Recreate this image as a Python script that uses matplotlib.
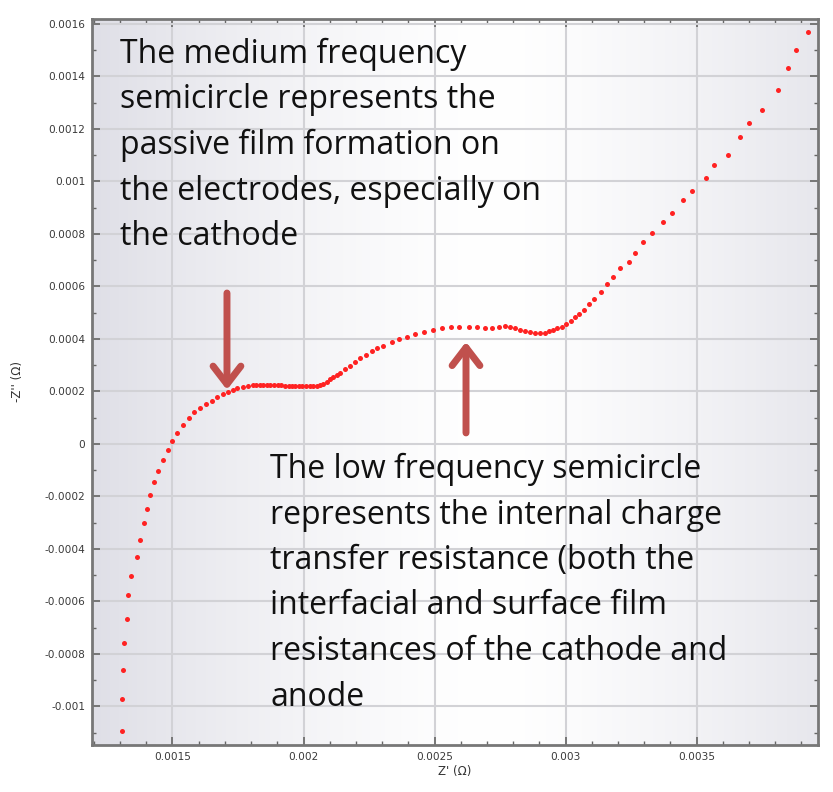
import numpy as np
import matplotlib
matplotlib.use('Agg')
import matplotlib.pyplot as plt
from matplotlib.ticker import MultipleLocator, FuncFormatter

# Nyquist data, values in micro-ohm
z_real = [1307, 1307, 1311, 1316, 1326, 1331, 1341, 1366, 1376, 1390,
          1402, 1415, 1429, 1445, 1463, 1483, 1499, 1517, 1541, 1563,
          1582, 1606, 1628, 1650, 1671, 1692, 1711, 1730, 1747, 1768,
          1789, 1807, 1820, 1834, 1847, 1861, 1874, 1887, 1901, 1914,
          1929, 1943, 1956, 1969, 1983, 1996, 2009, 2023, 2036, 2051,
          2063, 2074, 2088, 2101, 2113, 2126, 2139, 2158, 2177, 2196,
          2215, 2238, 2260, 2279, 2304, 2336, 2365, 2396, 2425, 2460,
          2495, 2529, 2562, 2594, 2632, 2663, 2692, 2718, 2747, 2769,
          2788, 2807, 2826, 2845, 2864, 2883, 2902, 2921, 2938, 2953,
          2968, 2985, 3001, 3019, 3036, 3053, 3071, 3090, 3108, 3134,
          3157, 3182, 3207, 3242, 3266, 3296, 3330, 3372, 3405, 3449,
          3483, 3535, 3567, 3619, 3665, 3699, 3749, 3809, 3848, 3878,
          3926]
z_imag = [-1092, -973, -861, -758, -666, -576, -503, -429, -366, -301,
          -248, -193, -145, -102, -61, -23, 13, 42, 71, 100,
          121, 136, 151, 165, 180, 190, 199, 206, 213, 218,
          222, 225, 225, 225, 225, 225, 225, 225, 225, 225,
          219, 219, 219, 219, 219, 219, 219, 219, 219, 221,
          225, 230, 237, 246, 254, 263, 272, 286, 298, 314,
          327, 339, 354, 365, 375, 390, 400, 409, 419, 428,
          434, 441, 445, 445, 445, 445, 440, 440, 445, 451,
          447, 441, 434, 431, 426, 422, 422, 424, 429, 434,
          441, 447, 457, 470, 483, 495, 509, 535, 551, 580,
          610, 635, 669, 693, 729, 768, 803, 846, 881, 930,
          965, 1013, 1063, 1101, 1171, 1224, 1274, 1348, 1431, 1500,
          1569]

note_mid = ["The medium frequency",
            "semicircle represents the",
            "passive film formation on",
            "the electrodes, especially on",
            "the cathode"]
note_low = ["The low frequency semicircle",
            "represents the internal charge",
            "transfer resistance (both the",
            "interfacial and surface film",
            "resistances of the cathode and",
            "anode"]

x = np.array(z_real) * 1e-6
y = np.array(z_imag) * 1e-6

W, H = 833, 792
fig = plt.figure(figsize=(W / 100, H / 100), dpi=100)
ax = fig.add_axes([92 / W, 1 - 745 / H, 726 / W, 726 / H])

# soft horizontal shading behind the plot
t = np.linspace(0, 1, 400)
f = (np.abs(t - 0.55) / 0.55) ** 1.4
edge = np.array([0.875, 0.875, 0.905])
img = (1 - f)[:, None] * np.ones(3) + f[:, None] * edge
ax.imshow(img[None, :, :], extent=[0, 1, 0, 1], transform=ax.transAxes,
          aspect='auto', zorder=0, interpolation='bilinear')

ax.plot(x, y, 'o', color='#ff2222', ms=3.6, mec='none', zorder=3)

ax.set_xlim(0.001193, 0.003963)
ax.set_ylim(-0.001147, 0.001619)

ax.xaxis.set_major_locator(MultipleLocator(0.0005))
ax.xaxis.set_minor_locator(MultipleLocator(0.0001))
ax.yaxis.set_major_locator(MultipleLocator(0.0002))
ax.yaxis.set_minor_locator(MultipleLocator(0.0001))
fmt = FuncFormatter(lambda v, p: '0' if abs(v) < 1e-12 else '%g' % v)
ax.xaxis.set_major_formatter(fmt)
ax.yaxis.set_major_formatter(fmt)

ax.grid(True, which='major', color='#d2d2d6', lw=1.5)
ax.set_axisbelow(True)
ax.tick_params(which='both', direction='in', top=True, right=True,
               color='#666666', labelcolor='#3a3a3a', labelsize=7.6)
ax.tick_params(which='major', length=6, width=1.2, pad=5)
ax.tick_params(which='minor', length=3, width=1)
for sp in ax.spines.values():
    sp.set_color('#777777')
    sp.set_linewidth(2)

ax.set_xlabel("Z' (Ω)", fontsize=8.5, color='#333333')
ax.set_ylabel("-Z'' (Ω)", fontsize=8.5, color='#333333')
ax.xaxis.set_label_coords(0.5, -0.028)
ax.yaxis.set_label_coords(-0.094, 0.5)

# annotation text blocks
for i, line in enumerate(note_mid):
    fig.text(120 / W, 1 - (63 + 45.5 * i) / H, line, fontsize=23,
             family='Open Sans', color='#111111', va='baseline')
for i, line in enumerate(note_low):
    fig.text(270 / W, 1 - (478 + 45.5 * i) / H, line, fontsize=23,
             family='Open Sans', color='#111111', va='baseline')

arrow_kw = dict(arrowstyle='->,head_length=0.65,head_width=0.5', lw=5,
                color='#c0504d', mutation_scale=20, shrinkA=0, shrinkB=0)
ax.annotate('', xy=(0.001708, 0.000206), xytext=(0.001708, 0.000575),
            arrowprops=arrow_kw, zorder=4)
ax.annotate('', xy=(0.002620, 0.000389), xytext=(0.002620, 0.000042),
            arrowprops=arrow_kw, zorder=4)

fig.savefig('out.png', dpi=100)
